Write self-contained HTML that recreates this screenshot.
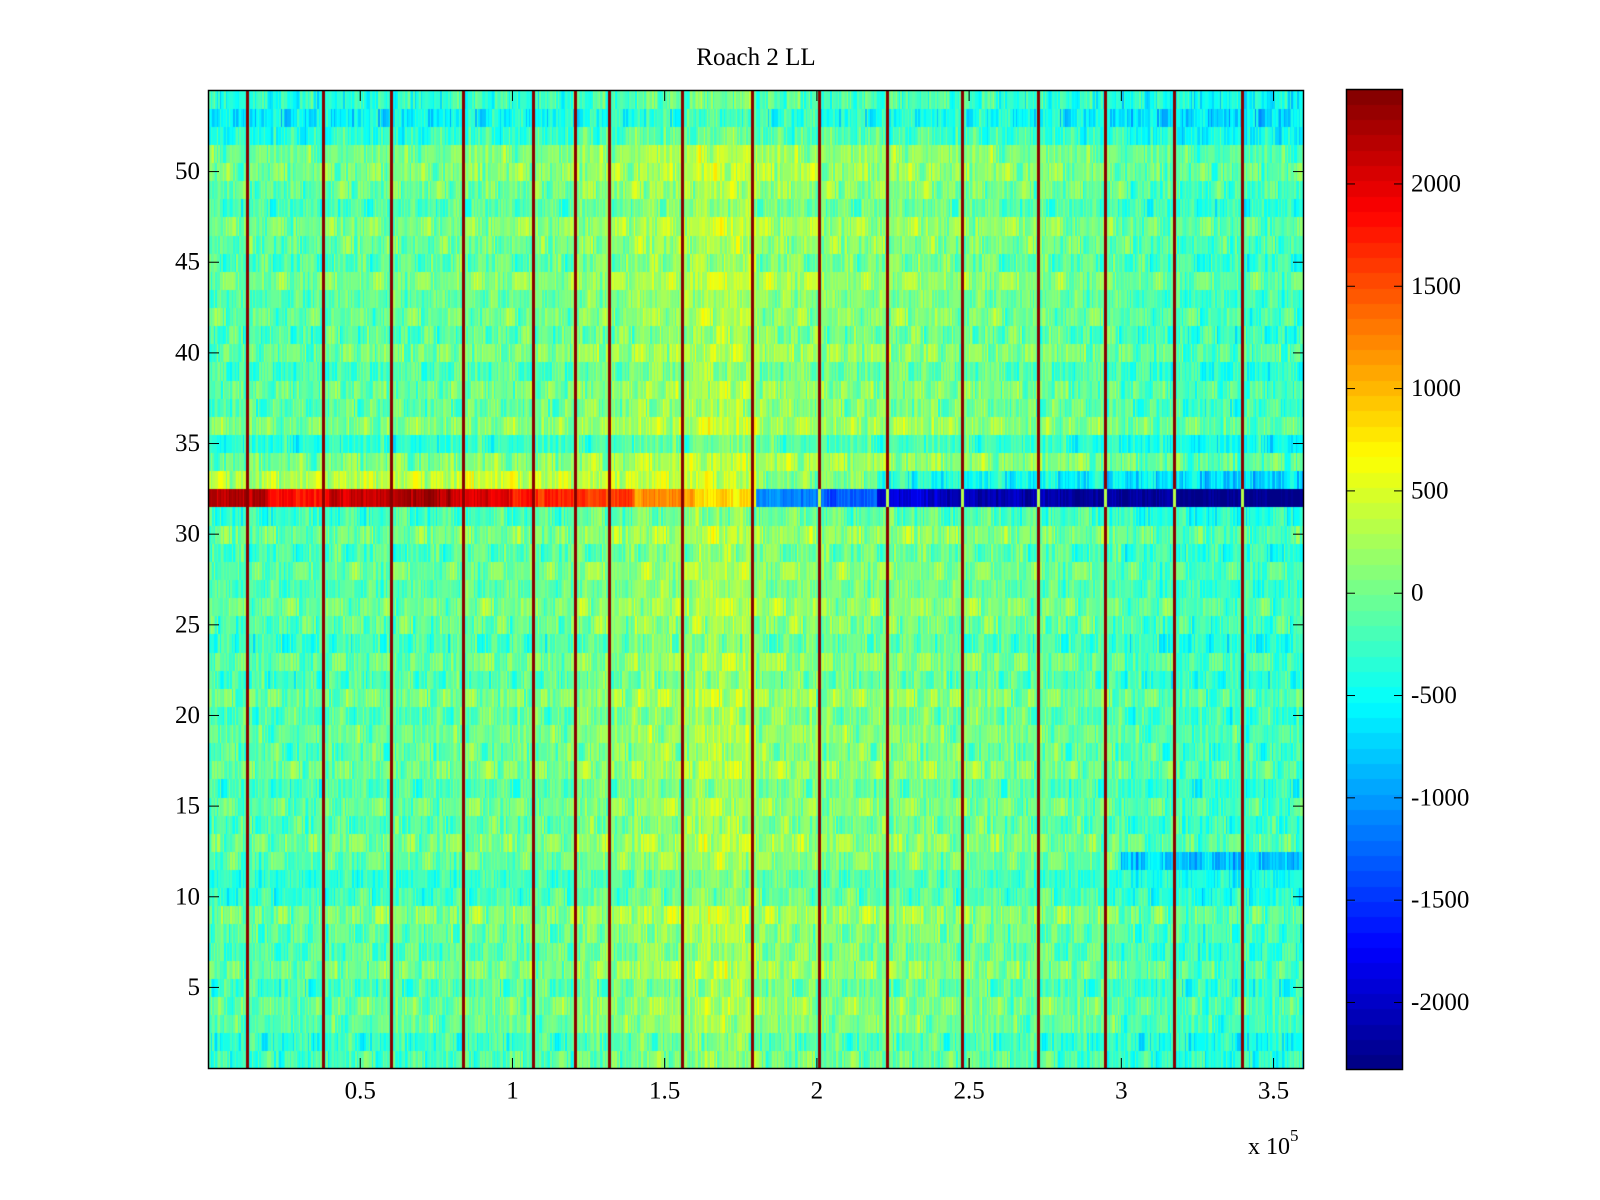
<!DOCTYPE html>
<html><head><meta charset="utf-8">
<style>
html,body{margin:0;padding:0;background:#fff;}
#wrap{position:relative;width:1600px;height:1200px;font-family:"Liberation Serif",serif;color:#000;}
.t{position:absolute;font-size:24px;line-height:24px;white-space:nowrap;}
canvas{position:absolute;}
</style></head>
<body>
<div id="wrap">
<div class="t" style="left:0;width:1512px;top:46px;text-align:center;font-size:25px;">Roach 2 LL</div>
<canvas id="hm" width="1096" height="979" style="left:208px;top:90px;"></canvas>
<canvas id="cb" width="57" height="981" style="left:1346px;top:89px;"></canvas>
<svg id="ax" width="1600" height="1200" style="position:absolute;left:0;top:0;"></svg>
<div class="t" style="left:1248px;top:1128px;">x 10<sup style="font-size:17px;position:relative;top:-4px;">5</sup></div>
</div>
<script>
// ---- data ----
const xMin = 0, xMax = 360000, nCols = 720;
const yMin = 0.5, yMax = 54.5, nRows = 54;
const cMin = -2330, cMax = 2464;
const rowBase = [-150,-250,-50,0,-150,50,-100,-50,100,-200,-250,-50,50,-100,0,-150,50,-50,0,-100,50,-150,0,-200,-50,50,-100,0,-150,50,-200,0,300,100,-300,100,-50,0,-150,50,-100,0,-50,100,-100,0,100,-150,0,100,50,-300,-500,-300];
const segOffset = [-100,-100,-50,-50,0,0,100,200,300,150,100,100,50,0,-50,-150,-200,-200];
const row32 = [2200,1800,2100,2300,2000,1700,1600,1200,800,-1100,-1300,-1900,-2100,-2100,-2200,-2200,-2300,-2300];
const row33 = [350,350,400,400,450,400,350,300,250,0,0,-450,-500,-500,-550,-550,-600,-600];
const row12Extra = [0,0,0,0,0,0,0,0,0,0,0,0,0,0,0,-550,-550,-550];
const lineX = [12900,37800,60700,84000,106900,121100,132200,155800,178800,201000,223600,248200,272800,295100,317600,339900];
const texture = [0.3,-0.8,0.5,0.1,-0.4,0.9,-0.2,-0.6,0.7,0.0,-0.9,0.4,0.2,-0.3,0.8,-0.7,0.6,-0.1,-0.5,1.0,-0.4,0.3,-0.8,0.1,0.5,-0.2,0.9,-0.6,0.2,-0.9,0.7,-0.3,0.0,0.6,-0.5,0.4,-1.0,0.8,-0.1,0.3,-0.7,0.5,0.1,-0.4,0.9,-0.8,0.2,0.6,-0.3,-0.6,0.4,0.0,0.7,-0.2,-0.9,0.5,0.3,-0.5,0.8,-0.1,0.1,-0.7,0.6,-0.4];
const xTicks = [50000,100000,150000,200000,250000,300000,350000];
const xTickLabels = ["0.5","1","1.5","2","2.5","3","3.5"];
const yTicks = [5,10,15,20,25,30,35,40,45,50];
const cTicks = [-2000,-1500,-1000,-500,0,500,1000,1500,2000];

// ---- axes ----
const AX = {l:208,r:1304,t:90,b:1069};
const CB = {l:1346,r:1403,t:89,b:1070};
function sx(v){return AX.l+(v-xMin)/(xMax-xMin)*(AX.r-AX.l);}
function sy(v){return AX.t+(yMax-v)/(yMax-yMin)*(AX.b-AX.t);}
function sc(v){return CB.b-(v-cMin)/(cMax-cMin)*(CB.b-CB.t);}
function jet(t){
  t=Math.max(0,Math.min(1,t));
  const f=x=>Math.round(255*Math.max(0,Math.min(1,x)));
  return [f(1.5-Math.abs(4*t-3)),f(1.5-Math.abs(4*t-2)),f(1.5-Math.abs(4*t-1))];
}
function colorOf(v){
  const k=Math.max(0,Math.min(63,Math.floor((v-cMin)/(cMax-cMin)*64)));
  const c=jet((k+0.5)/64);return 'rgb('+c[0]+','+c[1]+','+c[2]+')';
}
function cellValue(r,c){
  const xv=(c+0.5)*(xMax-xMin)/nCols;
  const seg=Math.min(segOffset.length-1,Math.floor(xv/20000));
  const n=texture[(c*7+r*13)%texture.length]*280+texture[(c*3+r*5+11)%texture.length]*180;
  let v;
  if(r===32) v=row32[seg]+n*0.6;
  else if(r===33) v=row33[seg]+segOffset[seg]*0.5+n;
  else v=rowBase[r-1]+segOffset[seg]+(r===12?row12Extra[seg]:0)+n;
  for(const lx of lineX){
    if(Math.abs(xv-lx)<500){ v=(r===32&&seg>=9)?300:2400; }
  }
  return v;
}
const hm=document.getElementById('hm').getContext('2d');
for(let r=1;r<=nRows;r++){
  for(let c=0;c<nCols;c++){
    const x0=sx(c*(xMax-xMin)/nCols)-AX.l, x1=sx((c+1)*(xMax-xMin)/nCols)-AX.l;
    const y0=sy(r+0.5)-AX.t, y1=sy(r-0.5)-AX.t;
    hm.fillStyle=colorOf(cellValue(r,c));
    hm.fillRect(Math.floor(x0),Math.floor(y0),Math.ceil(x1)-Math.floor(x0),Math.ceil(y1)-Math.floor(y0));
  }
}
const cb=document.getElementById('cb').getContext('2d');
for(let k=0;k<64;k++){
  const c=jet((k+0.5)/64);
  cb.fillStyle='rgb('+c[0]+','+c[1]+','+c[2]+')';
  const ya=CB.b-k/64*(CB.b-CB.t)-CB.t, yb=CB.b-(k+1)/64*(CB.b-CB.t)-CB.t;
  cb.fillRect(0,Math.floor(yb),57,Math.ceil(ya)-Math.floor(yb));
}
const svg=document.getElementById('ax');
const NS='http://www.w3.org/2000/svg';
function mk(tag,attrs,name){
  const e=document.createElementNS(NS,tag);
  for(const k in attrs) e.setAttribute(k,attrs[k]);
  
  
  svg.appendChild(e);return e;
}
mk('rect',{x:AX.l+0.5,y:AX.t+0.5,width:AX.r-AX.l-1,height:AX.b-AX.t-1,fill:'none',stroke:'#000','stroke-width':1.5},'plot-frame');
mk('rect',{x:CB.l+0.5,y:CB.t+0.5,width:CB.r-CB.l-1,height:CB.b-CB.t-1,fill:'none',stroke:'#000','stroke-width':1.5},'colorbar-frame');
function txt(x,y,s,anchor,name){
  const e=mk('text',{x:x,y:y,'font-size':25,'font-family':'Liberation Serif, serif','text-anchor':anchor,'dominant-baseline':'central'},name);
  e.textContent=s;
}
xTicks.forEach((v,i)=>{
  const x=sx(v);
  mk('line',{x1:x,x2:x,y1:AX.b,y2:AX.b-11,stroke:'#000'},'x-tick');
  mk('line',{x1:x,x2:x,y1:AX.t,y2:AX.t+11,stroke:'#000'},'x-tick-top');
  txt(x,1091,xTickLabels[i],'middle','x-tick-label');
});
yTicks.forEach(v=>{
  const y=sy(v);
  mk('line',{x1:AX.l,x2:AX.l+11,y1:y,y2:y,stroke:'#000'},'y-tick');
  mk('line',{x1:AX.r,x2:AX.r-11,y1:y,y2:y,stroke:'#000'},'y-tick-right');
  txt(200,y,String(v),'end','y-tick-label');
});
cTicks.forEach(v=>{
  const y=sc(v);
  mk('line',{x1:CB.l,x2:CB.l+9,y1:y,y2:y,stroke:'#000'},'colorbar-tick');
  mk('line',{x1:CB.r,x2:CB.r-9,y1:y,y2:y,stroke:'#000'},'colorbar-tick-right');
  txt(1411,y,String(v),'start','colorbar-tick-label');
});
</script>
</body></html>
